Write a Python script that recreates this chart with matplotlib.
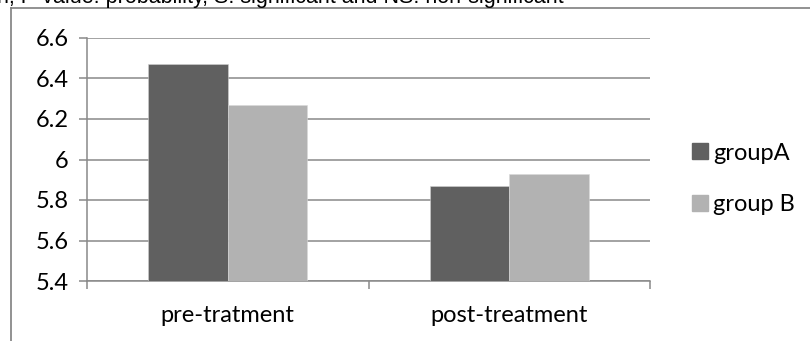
import matplotlib.pyplot as plt
import numpy as np
from matplotlib.lines import Line2D

# mean values per phase
categories = ['pre-tratment', 'post-treatment']
group_a = [6.47, 5.87]
group_b = [6.27, 5.93]
series_names = ['groupA', 'group B']
y_ticks = [5.4, 5.6, 5.8, 6.0, 6.2, 6.4, 6.6]
y_tick_labels = ['5.4', '5.6', '5.8', '6', '6.2', '6.4', '6.6']

dark = '#606060'
light = '#b2b2b2'
line_col = '#898989'
fs = 17

plt.rcParams['font.family'] = ['Lato', 'DejaVu Sans']

fig = plt.figure(figsize=(8.1, 3.41), dpi=100)
ax = fig.add_axes([87 / 810, 60 / 341, 563 / 810, 243 / 341])

x = np.arange(len(categories)) + 0.5
w = 0.283
ax.bar(x - w / 2, group_a, w, bottom=0, color=dark, edgecolor='#d0d0d0',
       linewidth=0.4, zorder=3, label=series_names[0])
ax.bar(x + w / 2, group_b, w, bottom=0, color=light, edgecolor='#d8d8d8',
       linewidth=0.4, zorder=3, label=series_names[1])

ax.set_xlim(0, 2)
ax.set_ylim(5.4, 6.6)
ax.set_yticks(y_ticks)
ax.set_yticklabels(y_tick_labels, fontsize=fs)
for yv in y_ticks:
    ax.axhline(yv, color=line_col, lw=1.1, zorder=1)

ax.set_xticks([0, 1, 2])
ax.set_xticklabels([])
ax.set_xticks(x, minor=True)
ax.set_xticklabels(categories, minor=True, fontsize=fs)
ax.tick_params(axis='x', which='minor', length=0, pad=17)
ax.tick_params(axis='x', which='major', length=6, width=1.1, color=line_col)
ax.tick_params(axis='y', length=6, width=1.1, color=line_col, pad=7)

for s in ['top', 'right']:
    ax.spines[s].set_visible(False)
ax.spines['left'].set_color(line_col)
ax.spines['bottom'].set_color(line_col)
ax.spines['left'].set_linewidth(1.1)
ax.spines['bottom'].set_linewidth(1.1)

handles = [Line2D([], [], marker='s', ls='', ms=11, color=dark),
           Line2D([], [], marker='s', ls='', ms=11, color=light)]
fig.legend(handles, series_names, loc='center left',
           bbox_to_anchor=(681 / 810, 162 / 341), frameon=False,
           fontsize=fs, handlelength=0.6, handletextpad=0.25,
           labelspacing=1.3, borderpad=0)

# outer chart frame and clipped caption above it
fig.add_artist(Line2D([11 / 810, 11 / 810], [0, 1 - 8 / 341],
                      transform=fig.transFigure, color='#7f7f7f', lw=1.2))
fig.add_artist(Line2D([11 / 810, 1], [1 - 8 / 341, 1 - 8 / 341],
                      transform=fig.transFigure, color='#7f7f7f', lw=1.2))
fig.text(564 / 810, 1 - 3 / 341,
         'n, P-value: probability, S: significant and NS: non-significant',
         family='Liberation Sans', fontsize=15.5, va='baseline', ha='right')

fig.savefig('out.png', dpi=100)
